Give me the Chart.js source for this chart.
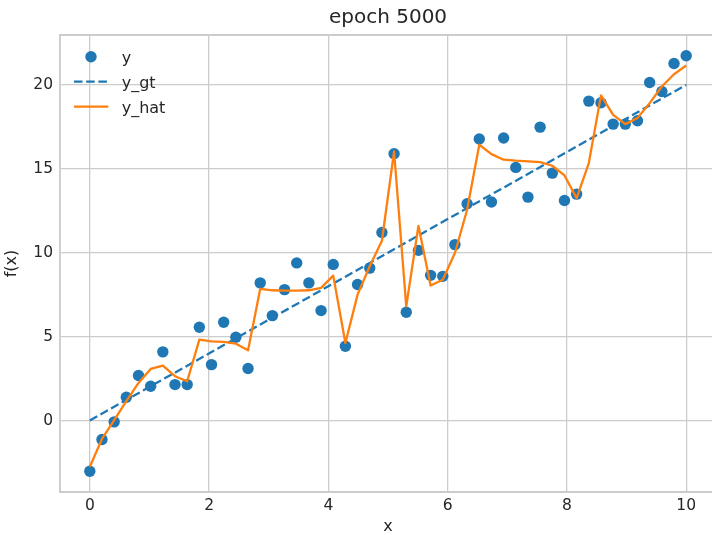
<!DOCTYPE html>
<html>
<head>
<meta charset="utf-8">
<script src="https://cdn.jsdelivr.net/npm/chart.js@4.4.1/dist/chart.umd.min.js"></script>
<style>
  html, body { margin: 0; padding: 0; background: #ffffff; overflow: hidden; }
  canvas { display: block; }
</style>
</head>
<body>
<canvas id="chart" width="716" height="535"></canvas>
<script>
// --- Data ---
const xValues = [
  0, 0.2041, 0.4082, 0.6122, 0.8163, 1.0204, 1.2245, 1.4286, 1.6327, 1.8367,
  2.0408, 2.2449, 2.4490, 2.6531, 2.8571, 3.0612, 3.2653, 3.4694, 3.6735, 3.8776,
  4.0816, 4.2857, 4.4898, 4.6939, 4.8980, 5.1020, 5.3061, 5.5102, 5.7143, 5.9184,
  6.1224, 6.3265, 6.5306, 6.7347, 6.9388, 7.1429, 7.3469, 7.5510, 7.7551, 7.9592,
  8.1633, 8.3673, 8.5714, 8.7755, 8.9796, 9.1837, 9.3878, 9.5918, 9.7959, 10
];
const yObserved = [
  -3.02, -1.13, -0.08, 1.39, 2.68, 2.04, 4.09, 2.14, 2.14, 5.56,
  3.33, 5.85, 4.96, 3.10, 8.20, 6.25, 7.80, 9.39, 8.20, 6.55,
  9.30, 4.42, 8.10, 9.08, 11.20, 15.89, 6.45, 10.14, 8.65, 8.59,
  10.48, 12.92, 16.77, 13.02, 16.83, 15.08, 13.31, 17.48, 14.74, 13.11,
  13.49, 19.03, 18.93, 17.66, 17.66, 17.86, 20.14, 19.60, 21.27, 21.73
];
const yHat = [
  -2.76, -1.10, 0.02, 1.15, 2.24, 3.07, 3.27, 2.64, 2.34, 4.82,
  4.72, 4.68, 4.58, 4.18, 7.84, 7.76, 7.74, 7.74, 7.76, 7.90,
  8.63, 4.62, 7.50, 9.19, 10.71, 16.03, 6.80, 11.60, 8.04, 8.39,
  9.98, 12.56, 16.43, 15.87, 15.54, 15.48, 15.44, 15.40, 15.18, 14.60,
  13.25, 15.34, 19.37, 18.21, 17.66, 18.02, 18.91, 19.90, 20.63, 21.15
];
const gtX = [0, 10];
const gtY = [0, 20];
const xTicks = [0, 2, 4, 6, 8, 10];
const yTicks = [0, 5, 10, 15, 20];

const BLUE = '#1f77b4';
const ORANGE = '#ff7f0e';
const TEXT = '#262626';
const GRID = '#cccccc';
const DASH = [8.5, 3.7];

const toPoints = (xs, ys) => xs.map((x, i) => ({ x: x, y: ys[i] }));

Chart.defaults.font.family = "'DejaVu Sans', sans-serif";
Chart.defaults.color = TEXT;

// matplotlib-like legend, drawn by hand in the upper left corner
const legendPlugin = {
  id: 'mplLegend',
  afterDatasetsDraw(chart) {
    const ctx = chart.ctx;
    const rows = [
      { label: 'y', kind: 'dot' },
      { label: 'y_gt', kind: 'dash' },
      { label: 'y_hat', kind: 'line' }
    ];
    ctx.save();
    ctx.font = "16px 'DejaVu Sans', sans-serif";
    ctx.textBaseline = 'alphabetic';
    rows.forEach((r, i) => {
      const base = 63.3 + i * 25;
      const mid = base - 6.6;
      if (r.kind === 'dot') {
        ctx.beginPath();
        ctx.fillStyle = BLUE;
        ctx.arc(91, mid, 5.7, 0, Math.PI * 2);
        ctx.fill();
      } else {
        ctx.beginPath();
        ctx.strokeStyle = r.kind === 'dash' ? BLUE : ORANGE;
        ctx.lineWidth = 2.3;
        ctx.setLineDash(r.kind === 'dash' ? DASH : []);
        ctx.moveTo(74, mid);
        ctx.lineTo(108.3, mid);
        ctx.stroke();
        ctx.setLineDash([]);
      }
      ctx.fillStyle = TEXT;
      ctx.fillText(r.label, 121.7, base);
    });
    ctx.restore();
  }
};

// top and right spines
const framePlugin = {
  id: 'frame',
  beforeDatasetsDraw(chart) {
    const { ctx, chartArea } = chart;
    ctx.save();
    ctx.strokeStyle = GRID;
    ctx.lineWidth = 1.9;
    ctx.beginPath();
    ctx.moveTo(chartArea.left, chartArea.top);
    ctx.lineTo(chartArea.right, chartArea.top);
    ctx.lineTo(chartArea.right, chartArea.bottom);
    ctx.stroke();
    ctx.restore();
  }
};

new Chart(document.getElementById('chart'), {
  type: 'scatter',
  data: {
    datasets: [
      {
        label: 'y',
        type: 'scatter',
        data: toPoints(xValues, yObserved),
        backgroundColor: BLUE,
        borderWidth: 0,
        pointRadius: 5.7,
        pointHoverRadius: 5.7,
        order: 3
      },
      {
        label: 'y_gt',
        type: 'line',
        data: toPoints(gtX, gtY),
        borderColor: BLUE,
        borderWidth: 2.3,
        borderDash: DASH,
        pointRadius: 0,
        fill: false,
        order: 2
      },
      {
        label: 'y_hat',
        type: 'line',
        data: toPoints(xValues, yHat),
        borderColor: ORANGE,
        borderWidth: 2.3,
        borderJoinStyle: 'round',
        pointRadius: 0,
        tension: 0,
        fill: false,
        order: 1
      }
    ]
  },
  options: {
    responsive: false,
    animation: false,
    devicePixelRatio: 1,
    layout: { padding: 0, autoPadding: false },
    plugins: {
      legend: { display: false },
      tooltip: { enabled: false },
      title: {
        display: true,
        text: 'epoch 5000',
        fullSize: false,
        color: TEXT,
        font: { size: 20, weight: 'normal', lineHeight: 1.2 },
        padding: { top: 6, bottom: 5 }
      }
    },
    scales: {
      x: {
        type: 'linear',
        min: -0.5,
        max: 10.5,
        afterFit(scale) {
          scale.height = 43;
          scale.paddingLeft = 0;
          scale.paddingRight = 0;
        },
        afterBuildTicks(scale) { scale.ticks = xTicks.map(v => ({ value: v })); },
        ticks: { padding: 5, color: TEXT, font: { size: 15.5 } },
        grid: { color: GRID, lineWidth: 1.3, drawTicks: false },
        border: { color: GRID, width: 1.9 },
        title: {
          display: true,
          text: 'x',
          color: TEXT,
          font: { size: 16, lineHeight: 1 },
          padding: { top: 0, bottom: 0 }
        }
      },
      y: {
        type: 'linear',
        min: -4.26,
        max: 22.97,
        afterFit(scale) {
          scale.width = 60;
          scale.paddingTop = 0;
          scale.paddingBottom = 0;
        },
        afterBuildTicks(scale) { scale.ticks = yTicks.map(v => ({ value: v })); },
        ticks: { padding: 7, color: TEXT, font: { size: 15.5 } },
        grid: { color: GRID, lineWidth: 1.3, drawTicks: false },
        border: { color: GRID, width: 1.9 },
        title: {
          display: true,
          text: 'f(x)',
          color: TEXT,
          font: { size: 16, lineHeight: 1 },
          padding: { top: 4.3, bottom: 0 }
        }
      }
    }
  },
  plugins: [framePlugin, legendPlugin]
});
</script>
</body>
</html>
